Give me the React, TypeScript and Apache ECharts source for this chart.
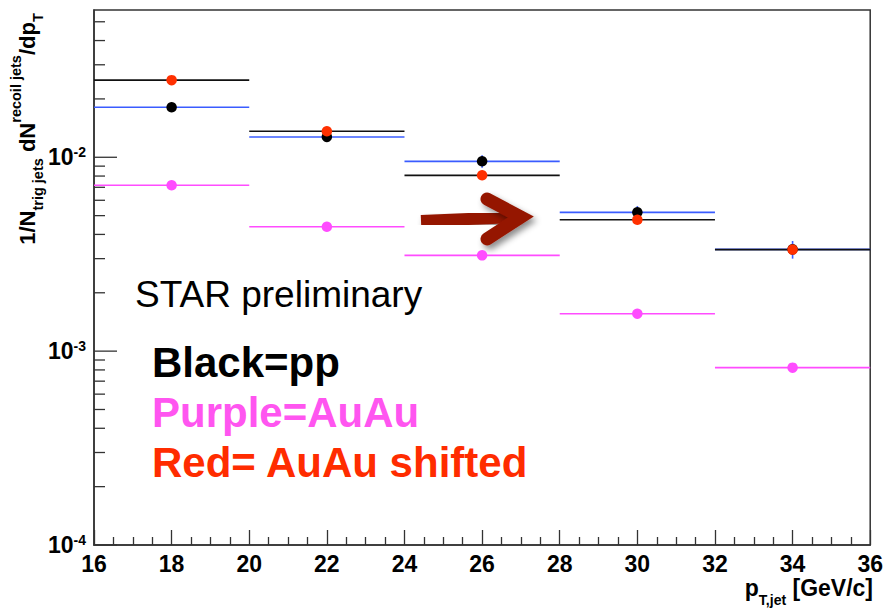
import React, { useEffect, useRef } from "react";
import * as echarts from "echarts";

// Jet pT bins [GeV/c]
const binLow = [16, 20, 24, 28, 32];
const binHigh = [20, 24, 28, 32, 36];
const binCenter = [18, 22, 26, 30, 34];

// 1/N_trig dN/dpT per bin
const ppValues = [0.0181, 0.01273, 0.00953, 0.0052, 0.00335];
const ppErrors = [0.0007, 0.0005, 0.0007, 0.0004, 0.00035];
const auauValues = [0.00717, 0.00438, 0.00312, 0.00156, 0.000822];
const shiftedValues = [0.025, 0.01361, 0.00807, 0.00476, 0.00334];

// Log axis range and tick marks
const yMin = 1e-4;
const yMax = 0.0575;
const yMajorTicks = [1e-4, 1e-3, 1e-2];
const yMinorTicks = [
  2e-4, 3e-4, 4e-4, 5e-4, 6e-4, 7e-4, 8e-4, 9e-4,
  2e-3, 3e-3, 4e-3, 5e-3, 6e-3, 7e-3, 8e-3, 9e-3,
  2e-2, 3e-2, 4e-2, 5e-2,
];

const FONT = "'Liberation Sans', Arial, Helvetica, sans-serif";
const PINK = "#ff4cff";
const RED = "#ff3000";
const BLUE = "#3a5cff";

function binBars(name: string, values: number[], errors: number[] | null, color: string) {
  return {
    type: "custom",
    name,
    coordinateSystem: "cartesian2d",
    silent: true,
    clip: true,
    encode: { x: [0, 1], y: [2] },
    data: values.map((v, i) => [
      binLow[i],
      binHigh[i],
      v,
      errors ? v - errors[i] : v,
      errors ? v + errors[i] : v,
    ]),
    renderItem: (_params: any, api: any) => {
      const lo = api.coord([api.value(0), api.value(2)]);
      const hi = api.coord([api.value(1), api.value(2)]);
      const children: any[] = [
        {
          type: "line",
          shape: { x1: lo[0], y1: lo[1], x2: hi[0], y2: hi[1] },
          style: { stroke: color, lineWidth: 1.6 },
        },
      ];
      if (api.value(3) !== api.value(4)) {
        const xc = (api.value(0) + api.value(1)) / 2;
        const a = api.coord([xc, api.value(3)]);
        const b = api.coord([xc, api.value(4)]);
        children.push({
          type: "line",
          shape: { x1: a[0], y1: a[1], x2: b[0], y2: b[1] },
          style: { stroke: color, lineWidth: 1.6 },
        });
      }
      return { type: "group", children };
    },
  };
}

function points(name: string, values: number[], color: string) {
  return {
    type: "scatter",
    name,
    symbol: "circle",
    symbolSize: 10.5,
    itemStyle: { color, opacity: 1 },
    data: values.map((v, i) => [binCenter[i], v]),
  };
}

export default function App() {
  const ref = useRef<HTMLDivElement>(null);

  useEffect(() => {
    if (!ref.current) return;
    const chart = echarts.init(ref.current, null, { renderer: "svg" });

    const tickData = [
      ...yMajorTicks.map((v) => [binLow[0], v, 23]),
      ...yMinorTicks.map((v) => [binLow[0], v, 11]),
    ];

    const option: any = {
      animation: false,
      backgroundColor: "#ffffff",
      grid: {
        left: 94,
        right: 13,
        top: 10,
        bottom: 63,
        show: true,
        borderColor: "#333",
        borderWidth: 1.5,
      },
      xAxis: {
        type: "value",
        min: 16,
        max: 36,
        interval: 2,
        axisLine: { show: true, lineStyle: { color: "#333", width: 1.5 } },
        axisTick: { show: true, inside: true, length: 15, lineStyle: { color: "#333", width: 1.3 } },
        minorTick: { show: true, splitNumber: 4, length: 8, lineStyle: { color: "#333", width: 1.3 } },
        splitLine: { show: false },
        axisLabel: {
          margin: 7,
          color: "#000",
          fontFamily: FONT,
          fontWeight: "bold",
          fontSize: 23,
          lineHeight: 23,
          showMinLabel: true,
          showMaxLabel: true,
        },
      },
      yAxis: {
        type: "log",
        logBase: 10,
        min: yMin,
        max: yMax,
        axisLine: { show: true, lineStyle: { color: "#333", width: 1.5 } },
        axisTick: { show: false },
        minorTick: { show: false },
        splitLine: { show: false },
        axisLabel: {
          margin: 8,
          color: "#000",
          formatter: (v: number) => {
            const e = Math.log10(v);
            if (Math.abs(e - Math.round(e)) > 1e-6) return "";
            return `{b|10}{s|${Math.round(e)}}`;
          },
          rich: {
            b: { fontFamily: FONT, fontWeight: "bold", fontSize: 23, lineHeight: 25, color: "#000" },
            s: { fontFamily: FONT, fontWeight: "bold", fontSize: 14, lineHeight: 14, verticalAlign: "top", color: "#000" },
          },
        },
      },
      series: [
        {
          type: "custom",
          name: "yticks",
          coordinateSystem: "cartesian2d",
          silent: true,
          clip: false,
          encode: { x: 0, y: 1 },
          data: tickData,
          renderItem: (_params: any, api: any) => {
            const p = api.coord([api.value(0), api.value(1)]);
            return {
              type: "line",
              shape: { x1: p[0], y1: p[1], x2: p[0] + api.value(2), y2: p[1] },
              style: { stroke: "#333", lineWidth: 1.3 },
            };
          },
        },
        binBars("AuAu", auauValues, null, PINK),
        points("AuAu", auauValues, PINK),
        binBars("pp", ppValues, ppErrors, BLUE),
        points("pp", ppValues, "#000"),
        binBars("AuAu shifted", shiftedValues, null, "#111"),
        points("AuAu shifted", shiftedValues, RED),
      ],
      graphic: [
        // y-axis title, reading bottom to top
        {
          type: "text",
          x: 27,
          y: 129,
          rotation: Math.PI / 2,
          style: {
            text: "{m|1/N}{sub|trig jets}{m| dN}{sup|recoil jets}{m|/dp}{sub|T}",
            align: "center",
            verticalAlign: "middle",
            rich: {
              m: { fontFamily: FONT, fontWeight: "bold", fontSize: 22, lineHeight: 37, fill: "#000" },
              sub: { fontFamily: FONT, fontWeight: "bold", fontSize: 14.5, lineHeight: 15, verticalAlign: "bottom", fill: "#000" },
              sup: { fontFamily: FONT, fontWeight: "bold", fontSize: 14.5, lineHeight: 15, verticalAlign: "top", fill: "#000" },
            },
          },
        },
        // x-axis title
        {
          type: "text",
          x: 873,
          y: 588,
          style: {
            text: "{m|p}{sub|T,jet}{m| [GeV/c]}",
            align: "right",
            verticalAlign: "middle",
            rich: {
              m: { fontFamily: FONT, fontWeight: "bold", fontSize: 23, lineHeight: 38, fill: "#000" },
              sub: { fontFamily: FONT, fontWeight: "bold", fontSize: 14, lineHeight: 14, verticalAlign: "bottom", fill: "#000" },
            },
          },
        },
        {
          type: "text",
          x: 135,
          y: 294,
          style: { text: "STAR preliminary", fontFamily: FONT, fontSize: 37, fill: "#000", align: "left", verticalAlign: "middle" },
        },
        {
          type: "text",
          x: 152,
          y: 362,
          style: { text: "Black=pp", fontFamily: FONT, fontWeight: "bold", fontSize: 42, fill: "#000", align: "left", verticalAlign: "middle" },
        },
        {
          type: "text",
          x: 152,
          y: 412,
          style: { text: "Purple=AuAu", fontFamily: FONT, fontWeight: "bold", fontSize: 42, fill: "#ff55f0", align: "left", verticalAlign: "middle" },
        },
        {
          type: "text",
          x: 152,
          y: 462,
          style: { text: "Red= AuAu shifted", fontFamily: FONT, fontWeight: "bold", fontSize: 42, fill: "#ff2c00", align: "left", verticalAlign: "middle" },
        },
        // arrow annotation
        {
          type: "group",
          children: [
            {
              type: "line",
              shape: { x1: 421, y1: 221, x2: 516, y2: 217 },
              style: {
                stroke: "#951800",
                lineWidth: 12,
                lineCap: "butt",
                shadowBlur: 6,
                shadowOffsetX: 3,
                shadowOffsetY: 4,
                shadowColor: "rgba(0,0,0,0.45)",
              },
            },
            {
              type: "polyline",
              shape: { points: [[487, 199], [521, 217], [487, 239]] },
              style: {
                stroke: "#951800",
                fill: null,
                lineWidth: 13,
                lineCap: "round",
                lineJoin: "miter",
                miterLimit: 10,
                shadowBlur: 6,
                shadowOffsetX: 3,
                shadowOffsetY: 4,
                shadowColor: "rgba(0,0,0,0.45)",
              },
            },
          ],
        },
      ],
    };

    chart.setOption(option);
    return () => chart.dispose();
  }, []);

  return <div ref={ref} style={{ width: 886, height: 608, position: "absolute", left: 0, top: 0 }} />;
}
